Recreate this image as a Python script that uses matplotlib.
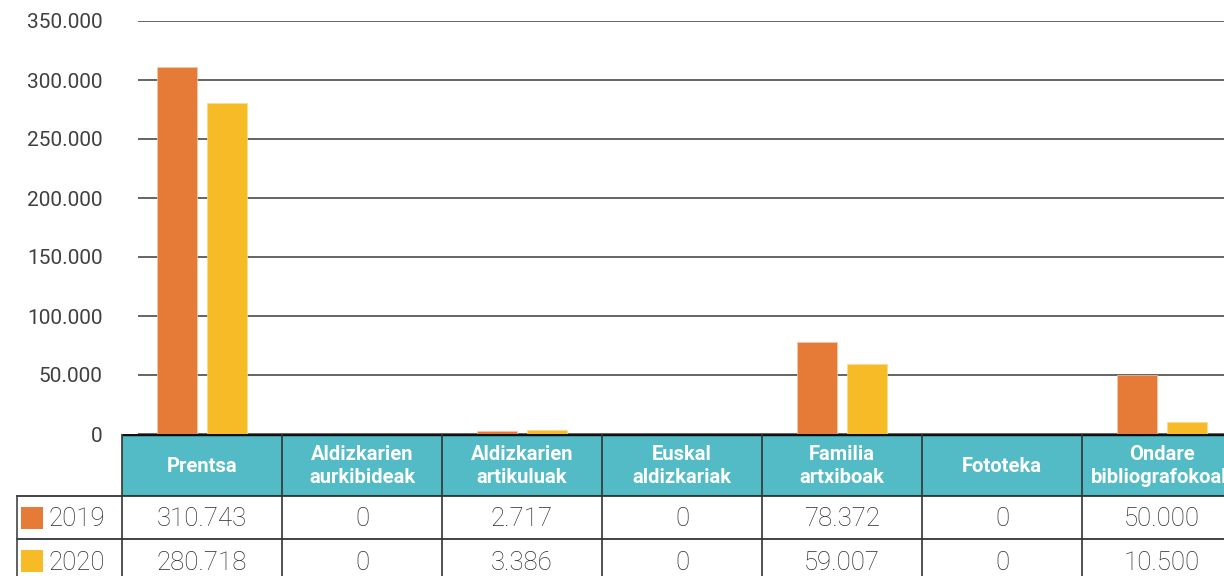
import matplotlib.pyplot as plt
from matplotlib.patches import Rectangle
from matplotlib.ticker import FuncFormatter

plt.rcParams['font.family'] = ['Roboto', 'DejaVu Sans']

categories = ['Prentsa', 'Aldizkarien\naurkibideak', 'Aldizkarien\nartikuluak',
              'Euskal\naldizkariak', 'Familia\nartxiboak', 'Fototeka',
              'Ondare\nbibliografokoak']
years = ['2019', '2020']
v2019 = [310743, 0, 2717, 0, 78372, 0, 50000]
v2020 = [280718, 0, 3386, 0, 59007, 0, 10500]
yticks = [0, 50000, 100000, 150000, 200000, 250000, 300000, 350000]

c2019 = '#E67B38'
c2020 = '#F6BB26'
teal = '#52BBC6'
series = [v2019, v2020]
colors = [c2019, c2020]


def fmt(v):
    return f'{v:,.0f}'.replace(',', '.')


W, H = 1224, 576
fig = plt.figure(figsize=(W / 100, H / 100), dpi=100)

# layout in pixels
col_w = 160
x0 = 122          # left edge of first category column
y_zero = 434      # baseline (top of table)
y_top = 21        # 350.000 line
n = len(categories)

ax = fig.add_axes([x0 / W, (H - y_zero) / H, n * col_w / W, (y_zero - y_top) / H])
ax.set_xlim(-0.5, n - 0.5)
ax.set_ylim(0, 350000)
for s in ax.spines.values():
    s.set_visible(False)
ax.set_xticks([])
ax.set_yticks(yticks)
ax.yaxis.set_major_formatter(FuncFormatter(lambda v, p: fmt(v)))
ax.tick_params(axis='y', length=0, pad=14, labelsize=15, labelcolor='#404040')

ax.hlines(yticks, -0.4, n - 0.5, color='#3a3a3a', lw=1.1, zorder=1)

bw = 40 / col_w
off = 25 / col_w
xs = list(range(n))
for k, (vals, c) in enumerate(zip(series, colors)):
    ax.bar([x + (k * 2 - 1) * off for x in xs], vals, width=bw, color=c,
           edgecolor='#f3c7a8' if k == 0 else '#f8dc8c', linewidth=0.5, zorder=2)

# table, drawn in an axes below the chart: x in category units, y in pixels below the baseline
tab_h = H - y_zero
tab = fig.add_axes([0, 0, 1, tab_h / H])
tab.set_xlim(-0.5 - x0 / col_w, -0.5 + (W - x0) / col_w)
tab.set_ylim(tab_h, 0)
tab.axis('off')

head_h = 62
row_h = 43
leg_left = -0.5 - (x0 - 17) / col_w
right = n - 0.5

tab.add_patch(Rectangle((-0.5, 0), n, head_h, facecolor=teal, edgecolor='none'))
for i, cat in enumerate(categories):
    tab.text(i, head_h / 2 + 1, cat, ha='center', va='center', color='white',
             fontsize=14.5, fontweight='bold', linespacing=1.25)
    for r, vals in enumerate(series):
        tab.text(i, head_h + row_h * (r + 0.5) + 2, fmt(vals[i]), ha='center', va='center',
                 color='#2b2b2b', fontsize=18.5, fontweight='light')

for r, (yr, c) in enumerate(zip(years, colors)):
    yc = head_h + row_h * (r + 0.5)
    tab.add_patch(Rectangle((leg_left + 4 / col_w, yc - 11), 22 / col_w, 22,
                            facecolor=c, edgecolor='none'))
    tab.text(leg_left + 32 / col_w, yc + 2, yr, ha='left', va='center',
             color='#2b2b2b', fontsize=18.5, fontweight='light')

# grid lines of the table
tab.plot([-0.5, right], [0, 0], color='#111111', lw=2.5, solid_capstyle='butt')
for r in range(1, 3):
    tab.plot([leg_left, right], [head_h + row_h * (r - 1)] * 2, color='#222222', lw=1.2)
tab.plot([leg_left, leg_left], [head_h, tab_h], color='#444444', lw=1.2)
for i in range(n + 1):
    tab.plot([i - 0.5, i - 0.5], [0, tab_h], color='#333333', lw=1.2)

fig.savefig('out.png', dpi=100)
